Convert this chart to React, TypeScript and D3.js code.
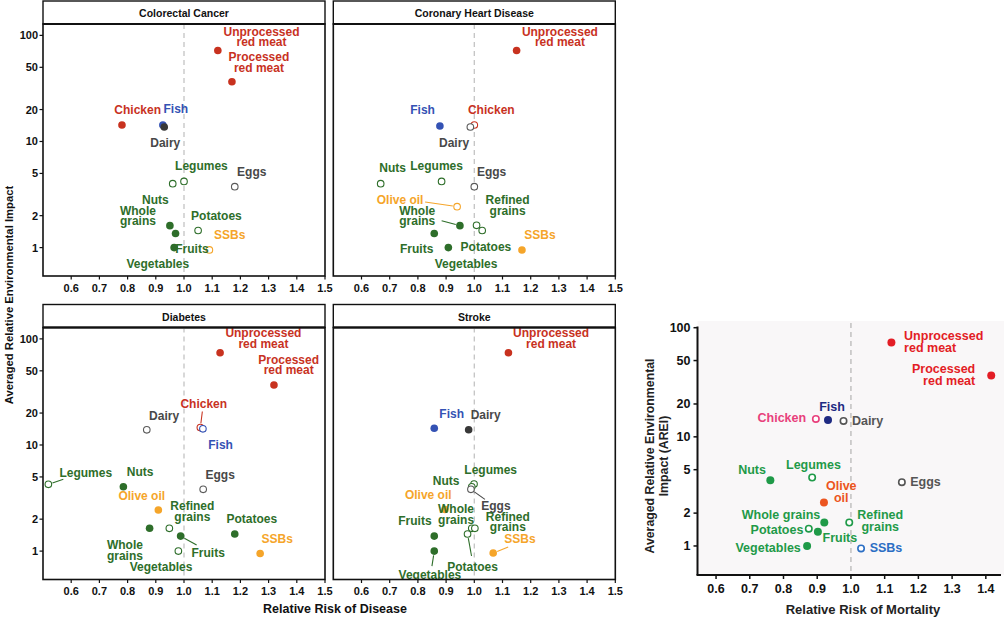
import React from "react";
import * as d3 from "d3";

type Pt = { food: string; rr: number; arei: number; sig: boolean };
const mk = (rows: [string, number, number, boolean][]): Pt[] =>
  rows.map(([food, rr, arei, sig]) => ({ food, rr, arei, sig }));

// ---------------- DATA ----------------
const panelTitles = ["Colorectal Cancer", "Coronary Heart Disease", "Diabetes", "Stroke"];
const panelXTicks = [0.6, 0.7, 0.8, 0.9, 1.0, 1.1, 1.2, 1.3, 1.4, 1.5];
const yTicks = [1, 2, 5, 10, 20, 50, 100];
const mortXTicks = [0.6, 0.7, 0.8, 0.9, 1.0, 1.1, 1.2, 1.3, 1.4];

const colorectal = mk([
  ["Unprocessed red meat", 1.12, 72, true],
  ["Processed red meat", 1.17, 36.5, true],
  ["Chicken", 0.78, 14.3, true],
  ["Fish", 0.925, 14.3, true],
  ["Dairy", 0.93, 13.7, true],
  ["Nuts", 0.96, 4.0, false],
  ["Legumes", 1.0, 4.2, false],
  ["Eggs", 1.18, 3.75, false],
  ["Whole grains", 0.95, 1.61, true],
  ["Fruits", 0.97, 1.36, true],
  ["Vegetables", 0.965, 1.0, true],
  ["Potatoes", 1.05, 1.45, false],
  ["SSBs", 1.09, 0.95, false],
]);

const chd = mk([
  ["Unprocessed red meat", 1.15, 72, true],
  ["Fish", 0.878, 14.0, true],
  ["Chicken", 1.0, 14.3, false],
  ["Dairy", 0.986, 13.7, false],
  ["Nuts", 0.668, 4.0, false],
  ["Legumes", 0.884, 4.2, false],
  ["Eggs", 1.0, 3.75, false],
  ["Olive oil", 0.939, 2.43, false],
  ["Whole grains", 0.949, 1.61, true],
  ["Refined grains", 1.008, 1.62, false],
  ["Potatoes", 1.028, 1.45, false],
  ["Fruits", 0.858, 1.36, true],
  ["Vegetables", 0.908, 1.0, true],
  ["SSBs", 1.169, 0.95, true],
]);

const diabetes = mk([
  ["Unprocessed red meat", 1.128, 74, true],
  ["Processed red meat", 1.319, 36.8, true],
  ["Chicken", 1.058, 14.6, false],
  ["Fish", 1.067, 14.2, false],
  ["Dairy", 0.868, 13.9, false],
  ["Legumes", 0.519, 4.26, false],
  ["Nuts", 0.785, 4.04, true],
  ["Eggs", 1.068, 3.82, false],
  ["Olive oil", 0.909, 2.44, true],
  ["Refined grains", 0.948, 1.64, false],
  ["Whole grains", 0.878, 1.64, true],
  ["Fruits", 0.988, 1.385, true],
  ["Vegetables", 0.98, 1.0, false],
  ["Potatoes", 1.18, 1.45, true],
  ["SSBs", 1.27, 0.95, true],
]);

const stroke = mk([
  ["Unprocessed red meat", 1.121, 74, true],
  ["Fish", 0.858, 14.4, true],
  ["Dairy", 0.98, 13.9, true],
  ["Legumes", 0.999, 4.29, false],
  ["Nuts", 0.991, 4.04, false],
  ["Eggs", 0.988, 3.82, false],
  ["Olive oil", 0.896, 2.47, true],
  ["Whole grains", 0.991, 1.64, false],
  ["Refined grains", 1.002, 1.64, false],
  ["Potatoes", 0.976, 1.45, false],
  ["Fruits", 0.858, 1.385, true],
  ["Vegetables", 0.858, 1.0, true],
  ["SSBs", 1.067, 0.96, true],
]);

const mortality = mk([
  ["Unprocessed red meat", 1.12, 73, true],
  ["Processed red meat", 1.416, 36.5, true],
  ["Chicken", 0.896, 14.6, false],
  ["Fish", 0.932, 14.3, true],
  ["Dairy", 0.978, 14.0, false],
  ["Nuts", 0.761, 4.0, true],
  ["Legumes", 0.885, 4.24, false],
  ["Eggs", 1.151, 3.84, false],
  ["Olive oil", 0.92, 2.5, true],
  ["Whole grains", 0.921, 1.64, true],
  ["Refined grains", 0.995, 1.64, false],
  ["Potatoes", 0.875, 1.44, false],
  ["Fruits", 0.902, 1.35, true],
  ["Vegetables", 0.87, 1.0, true],
  ["SSBs", 1.03, 0.95, false],
]);

// ---------------- STYLE / LAYOUT ----------------
const RED = "#c8321f", BLUE = "#3452b4", GRAY = "#484848", GREEN = "#2e6e2a", ORANGE = "#f5a52a";
const panelColor: Record<string, string> = {
  "Unprocessed red meat": RED, "Processed red meat": RED, Chicken: RED, Fish: BLUE,
  Dairy: GRAY, Eggs: GRAY, "Olive oil": ORANGE, SSBs: ORANGE,
};
const mortColor: Record<string, string> = {
  "Unprocessed red meat": "#e31d25", "Processed red meat": "#e31d25", Chicken: "#e8407c",
  Fish: "#1e2a82", Dairy: "#555555", Eggs: "#555555", "Olive oil": "#ec5520", SSBs: "#2b6ec4",
};
const pColor = (f: string) => panelColor[f] || GREEN;
const mColor = (f: string) => mortColor[f] || "#1f9a48";

const panelLines: Record<string, string[]> = {
  "Unprocessed red meat": ["Unprocessed", "red meat"],
  "Processed red meat": ["Processed", "red meat"],
  "Whole grains": ["Whole", "grains"],
  "Refined grains": ["Refined", "grains"],
};
const mortLines: Record<string, string[]> = {
  "Unprocessed red meat": ["Unprocessed", "red meat"],
  "Processed red meat": ["Processed", "red meat"],
  "Refined grains": ["Refined", "grains"],
  "Olive oil": ["Olive", "oil"],
};

// label offsets: [dx, dy, anchor, leaderDx, leaderDy]
type Lab = [number, number, string?, number?, number?];
const layoutColorectal: Record<string, Lab> = {
  "Unprocessed red meat": [43.7, -19], "Processed red meat": [27, -24.7], Chicken: [15.7, -15],
  Fish: [13, -16], Dairy: [1, 16.3], Nuts: [-17.3, 16.7], Legumes: [17.4, -15], Eggs: [17, -14.4],
  "Whole grains": [-32, -14.7], Fruits: [16.4, 16], Vegetables: [-16.3, 16.3], Potatoes: [18.3, -14],
  SSBs: [20.4, -15],
};
const layoutChd: Record<string, Lab> = {
  "Unprocessed red meat": [43.3, -19], Fish: [-17.3, -15.7], Chicken: [17, -15], Dairy: [-16.3, 16.3],
  Nuts: [12, -15.3], Legumes: [-5, -15.7], Eggs: [17.3, -14.4],
  "Olive oil": [-57, -6.7, "middle", -32, -4.7], "Whole grains": [-42.7, -14.7, "middle", -18.3, -5],
  "Refined grains": [31, -25], Potatoes: [3.7, 16.6], Fruits: [-17.6, 16], Vegetables: [17.7, 16.3],
  SSBs: [18, -15],
};
const layoutDiabetes: Record<string, Lab> = {
  "Unprocessed red meat": [43.3, -19.4], "Processed red meat": [14.7, -25],
  Chicken: [3.4, -23.4, "middle", 2, -16], Fish: [17.7, 16], Dairy: [17.3, -14],
  Legumes: [37.4, -11, "middle", 15, -5], Nuts: [16.7, -15], Eggs: [17, -14.6], "Olive oil": [-16.6, -14],
  "Refined grains": [23, -22.3], "Whole grains": [-24.7, 16.7], Fruits: [27.6, 16.7, "middle", 16, 9],
  Vegetables: [-17.3, 16], Potatoes: [17, -14.7], SSBs: [17, -14.6],
};
const layoutStroke: Record<string, Lab> = {
  "Unprocessed red meat": [42.7, -19.4], Fish: [17.4, -14.3], Dairy: [17, -14.7], Legumes: [16.7, -14],
  Nuts: [-25.7, -6], Eggs: [25, 16.7, "middle", 14, 10], "Olive oil": [-16.7, -14.6],
  "Whole grains": [-15.7, -19], "Refined grains": [33, -11.6], Potatoes: [5, 32.7, "middle", 4, 22],
  Fruits: [-19.3, -15], Vegetables: [-4.3, 24.3, "middle", -2.3, 15], SSBs: [26.7, -14.4, "middle", 15, -6],
};
const layoutMort: Record<string, Lab> = {
  "Unprocessed red meat": [12.7, -6.5, "start"], "Processed red meat": [-16, -6.5, "end"],
  Fish: [4, -13.3], Chicken: [-9.7, -0.7, "end"], Dairy: [8.4, 0, "start"], Nuts: [-18.3, -10.3],
  Legumes: [1.3, -12.7], Eggs: [8.3, 0, "start"], "Olive oil": [17.3, -16.7], "Whole grains": [-4, -7.7, "end"],
  "Refined grains": [31, -7.7], Potatoes: [-5.4, 1.3, "end"], Fruits: [22, 6], Vegetables: [-6.3, 1.6, "end"],
  SSBs: [8.6, 0, "start"],
};

const FONT = "'Liberation Sans', Arial, Helvetica, sans-serif";
const PW = 282, STRIP = 23, PH = 252;
const panelDefs = [
  { title: panelTitles[0], data: colorectal, layout: layoutColorectal, left: 43, top: 1, yLabels: true, id: "p1" },
  { title: panelTitles[1], data: chd, layout: layoutChd, left: 333.3, top: 1, yLabels: false, id: "p2" },
  { title: panelTitles[2], data: diabetes, layout: layoutDiabetes, left: 43, top: 304.5, yLabels: true, id: "p3" },
  { title: panelTitles[3], data: stroke, layout: layoutStroke, left: 333.3, top: 304.5, yLabels: false, id: "p4" },
];

function Label({ x, y, lines, anchor, color, size, lh }: any) {
  return (
    <g>
      {lines.map((l: string, i: number) => (
        <text key={i} x={x} y={y + i * lh} textAnchor={anchor} dominantBaseline="central"
          fontSize={size} fontWeight="bold" fill={color} fontFamily={FONT}>{l}</text>
      ))}
    </g>
  );
}

function leaderPath(cx: number, cy: number, ex: number, ey: number, r: number) {
  const dx = ex - cx, dy = ey - cy;
  const d = Math.hypot(dx, dy) || 1;
  return `M${cx + (dx / d) * (r + 0.5)},${cy + (dy / d) * (r + 0.5)}L${ex},${ey}`;
}

function Panel({ def }: any) {
  const { title, data, layout, left, top, yLabels, id } = def;
  const plotTop = top + STRIP;
  const x = d3.scaleLinear().domain([0.5, 1.5]).range([left, left + PW]);
  const y = d3.scaleLog().domain([0.54, 128]).range([plotTop + PH, plotTop]);
  const r = 3.8;
  return (
    <g>
      <defs>
        <clipPath id={"clip-" + id}>
          <rect x={left} y={plotTop} width={PW} height={PH} />
        </clipPath>
      </defs>
      <rect x={left} y={top} width={PW} height={STRIP} fill="#fff" stroke="#111" strokeWidth={1.4} />
      <text x={left + PW / 2} y={top + STRIP / 2 + 0.5} textAnchor="middle" dominantBaseline="central"
        fontSize={10.5} fontWeight="bold" fill="#111" fontFamily={FONT}>{title}</text>
      <line x1={x(1)} x2={x(1)} y1={plotTop} y2={plotTop + PH} stroke="#c4c4c4" strokeWidth={1.3} strokeDasharray="5,4" />
      <g clipPath={`url(#clip-${id})`}>
        {data.map((d: Pt) => {
          const lay = layout[d.food];
          if (!lay || lay[3] === undefined) return null;
          const cx = x(d.rr), cy = y(d.arei);
          return <path key={"l" + d.food} d={leaderPath(cx, cy, cx + lay[3]!, cy + lay[4]!, r)}
            stroke={pColor(d.food)} strokeWidth={1.1} fill="none" />;
        })}
        {data.map((d: Pt) => (
          <circle key={d.food} cx={x(d.rr)} cy={y(d.arei)} r={d.sig ? r : r - 0.5}
            fill={d.sig ? (d.food === "Dairy" ? "#383838" : pColor(d.food)) : "#fff"}
            stroke={d.sig ? "none" : (d.food === "Dairy" || d.food === "Eggs" ? "#5a5a5a" : pColor(d.food))}
            strokeWidth={1.1} />
        ))}
        {data.map((d: Pt) => {
          const lay = layout[d.food];
          const lines = panelLines[d.food] || [d.food];
          return <Label key={"t" + d.food} x={x(d.rr) + lay[0]} y={y(d.arei) + lay[1]} lines={lines}
            anchor={lay[2] || "middle"} color={pColor(d.food)} size={12} lh={10.5} />;
        })}
      </g>
      <rect x={left} y={plotTop} width={PW} height={PH} fill="none" stroke="#111" strokeWidth={1.6} />
      <line x1={left} x2={left + PW} y1={plotTop} y2={plotTop} stroke="#111" strokeWidth={2.2} />
      {panelXTicks.map((t) => (
        <g key={t}>
          <line x1={x(t)} x2={x(t)} y1={plotTop + PH} y2={plotTop + PH + 3.5} stroke="#111" strokeWidth={1.2} />
          <text x={x(t)} y={plotTop + PH + 11.5} textAnchor="middle" dominantBaseline="central"
            fontSize={11} fontWeight="bold" fill="#111" fontFamily={FONT}>{t.toFixed(1)}</text>
        </g>
      ))}
      {yLabels && yTicks.map((t) => (
        <g key={t}>
          <line x1={left - 3.5} x2={left} y1={y(t)} y2={y(t)} stroke="#111" strokeWidth={1.2} />
          <text x={left - 5} y={y(t)} textAnchor="end" dominantBaseline="central"
            fontSize={11} fontWeight="bold" fill="#111" fontFamily={FONT}>{t}</text>
        </g>
      ))}
    </g>
  );
}

function Mortality() {
  const x = d3.scaleLinear().domain([0.545, 1.445]).range([697.5, 1001]);
  const y = d3.scaleLog().domain([0.542, 100]).range([575, 327.7]);
  const r = 3.8;
  return (
    <g>
      <rect x={697.5} y={321} width={306.5} height={254} fill="#f9f7f8" />
      <line x1={x(1)} x2={x(1)} y1={323} y2={575} stroke="#b8b8b8" strokeWidth={1.3} strokeDasharray="5,4" />
      {mortality.map((d) => (
        <circle key={d.food} cx={x(d.rr)} cy={y(d.arei)} r={d.sig ? r + 0.2 : r - 0.6}
          fill={d.sig ? mColor(d.food) : "#fff"} stroke={d.sig ? "none" : mColor(d.food)} strokeWidth={1.6} />
      ))}
      {mortality.map((d) => {
        const lay = layoutMort[d.food];
        const lines = mortLines[d.food] || [d.food];
        return <Label key={"t" + d.food} x={x(d.rr) + lay[0]} y={y(d.arei) + lay[1]} lines={lines}
          anchor={lay[2] || "middle"} color={mColor(d.food)} size={12.5} lh={12.3} />;
      })}
      <line x1={697.5} x2={697.5} y1={326.5} y2={575} stroke="#111" strokeWidth={2} />
      <line x1={696.5} x2={1001} y1={575} y2={575} stroke="#111" strokeWidth={2} />
      {mortXTicks.map((t) => (
        <g key={t}>
          <line x1={x(t)} x2={x(t)} y1={575} y2={579} stroke="#111" strokeWidth={1.5} />
          <text x={x(t)} y={588.5} textAnchor="middle" dominantBaseline="central"
            fontSize={12.5} fontWeight="bold" fill="#111" fontFamily={FONT}>{t.toFixed(1)}</text>
        </g>
      ))}
      {yTicks.map((t) => (
        <g key={t}>
          <line x1={693.5} x2={697.5} y1={y(t)} y2={y(t)} stroke="#111" strokeWidth={1.5} />
          <text x={690.5} y={y(t)} textAnchor="end" dominantBaseline="central"
            fontSize={12.5} fontWeight="bold" fill="#111" fontFamily={FONT}>{t}</text>
        </g>
      ))}
      <text x={863} y={609} textAnchor="middle" dominantBaseline="central" fontSize={13}
        fontWeight="bold" fill="#222" fontFamily={FONT}>Relative Risk of Mortality</text>
      <g transform="translate(650,456) rotate(-90)">
        <text x={0} y={0} textAnchor="middle" dominantBaseline="central" fontSize={12.3}
          fontWeight="bold" fill="#222" fontFamily={FONT}>Averaged Relative Environmental</text>
        <text x={0} y={13.5} textAnchor="middle" dominantBaseline="central" fontSize={12.3}
          fontWeight="bold" fill="#222" fontFamily={FONT}>Impact (AREI)</text>
      </g>
    </g>
  );
}

export default function App() {
  return (
    <svg width={1004} height={617} style={{ position: "absolute", left: 0, top: 0, background: "#fff" }}>
      <rect x={0} y={0} width={1004} height={617} fill="#fff" />
      {panelDefs.map((p) => <Panel key={p.id} def={p} />)}
      <text x={335} y={609} textAnchor="middle" dominantBaseline="central" fontSize={12.5}
        fontWeight="bold" fill="#111" fontFamily={FONT}>Relative Risk of Disease</text>
      <text transform="translate(9,295) rotate(-90)" textAnchor="middle" dominantBaseline="central"
        fontSize={11.3} fontWeight="bold" fill="#111" fontFamily={FONT}>Averaged Relative Environmental Impact</text>
      <Mortality />
    </svg>
  );
}
